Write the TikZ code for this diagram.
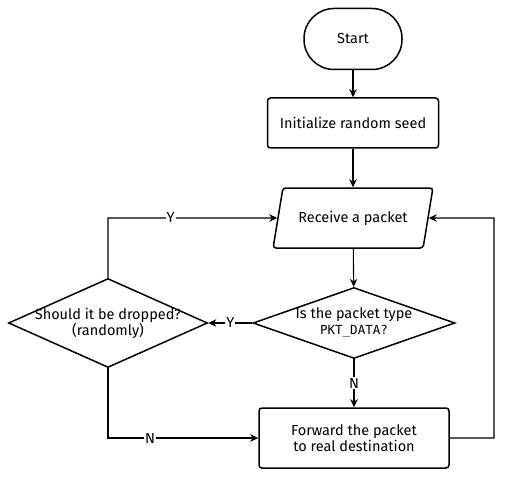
\documentclass[tikz,border=0pt]{standalone}
\usepackage{fontspec}
\setmainfont{Fira Sans}
\setmonofont{DejaVu Sans Mono}
\usetikzlibrary{shapes.geometric,arrows.meta}
\begin{document}
\begin{tikzpicture}[x=1pt,y=-1pt,
  every node/.style={font=\fontsize{14.5}{16}\selectfont, align=center, inner sep=0pt},
  shp/.style={draw, line width=1.5pt},
  conn/.style={line width=1.1pt, -{Stealth[length=8pt,width=7.5pt,inset=2.5pt]}},
  lbl/.style={fill=white, inner sep=1pt}]
\useasboundingbox (0,0) rectangle (526,478);
\node[shp, rounded corners=30pt, minimum width=98pt, minimum height=61pt] (start) at (353,39) {Start};
\node[shp, rounded corners=3pt, minimum width=171pt, minimum height=50pt] (init) at (353,123) {Initialize random seed};
\node[shp, trapezium, trapezium left angle=62, trapezium right angle=118, trapezium stretches=true, rounded corners=3pt, minimum width=160pt, minimum height=60pt] (recv) at (353,218) {Receive a packet};
\node[shp, diamond, minimum width=202pt, minimum height=71pt] (d1) at (354,323) {};
\node (d1t) at (d1.center) {Is the packet type\\{\ttfamily\fontsize{12.5}{16}\selectfont PKT\_DATA?}};
\node[shp, diamond, minimum width=199pt, minimum height=89pt] (d2) at (108,323) {};
\node (d2t) at (d2.center) {Should it be dropped?\\(randomly)};
\node[shp, rounded corners=3pt, minimum width=190pt, minimum height=60pt] (fwd) at (354,438) {Forward the packet\\to real destination};
\coordinate (c1) at (108,218);
\coordinate (c2) at (108,438);
\coordinate (c3) at (494,438);
\coordinate (c4) at (494,218);
\draw[conn] (start) -- (init);
\draw[conn] (init) -- (recv);
\draw[conn] (recv) -- (d1);
\draw[conn] (d1) -- node[lbl] {Y} (d2);
\draw[conn] (d1) -- node[lbl] {N} (fwd);
\draw[conn] (d2.north) -- (c1) -- node[lbl, pos=0.37] {Y} (recv.west);
\draw[conn] (d2.south) -- (c2) -- node[lbl, pos=0.28] {N} (fwd.west);
\draw[conn] (fwd.east) -- (c3) -- (c4) -- (recv.east);
\end{tikzpicture}
\end{document}
